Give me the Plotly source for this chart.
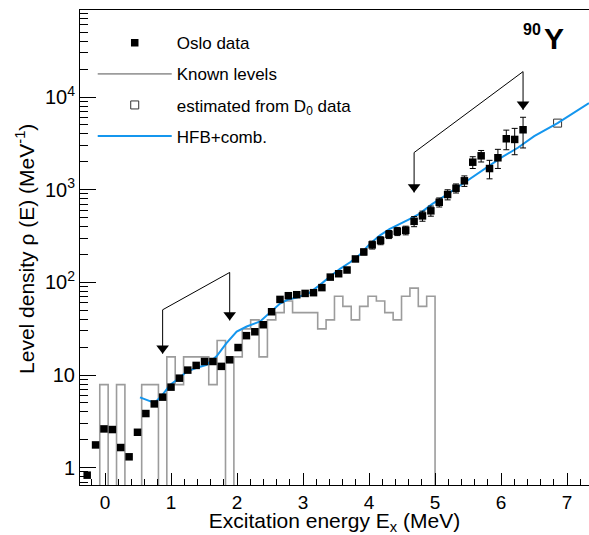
import plotly.graph_objects as go
import math

# ---------------- data ----------------
oslo_E = [-0.270, -0.143, -0.016, 0.111, 0.238, 0.365, 0.492, 0.619, 0.746, 0.873,
          1.000, 1.127, 1.254, 1.381, 1.508, 1.635, 1.762, 1.889, 2.016, 2.143,
          2.270, 2.397, 2.524, 2.651, 2.778, 2.905, 3.032, 3.159, 3.286, 3.413,
          3.540, 3.667, 3.794, 3.921, 4.048, 4.175, 4.302, 4.429, 4.556, 4.683,
          4.810, 4.937, 5.064, 5.191, 5.318, 5.445, 5.572, 5.699, 5.826, 5.953,
          6.080, 6.207, 6.334]
oslo_rho = [0.83, 1.76, 2.62, 2.58, 1.65, 1.31, 2.41, 3.84, 4.88, 5.77,
            7.4, 9.25, 11.3, 12.7, 14.0, 14.0, 12.4, 14.6, 19.8, 26.6,
            29.3, 34.9, 48.2, 65.5, 71.8, 73.6, 76.0, 77.4, 87.8, 114,
            124, 136, 179, 213, 254, 283, 330, 356, 365, 456,
            522, 592, 733, 888, 1038, 1248, 1983, 2323, 1694, 2213,
            3550, 3490, 4440]
oslo_err = [0.0] * 33 + [15, 25, 28, 33, 36, 39, 57, 65, 74, 82,
                         111, 116, 162, 288, 330, 383, 516, 848, 1103, 1616]

# known levels histogram (levels/MeV per bin, bins centred on oslo_E)
known_centers = oslo_E[:42]
known_halfwidth = 0.0635
known_rho = [0, 0, 7.87, 0, 7.87, 0, 0, 7.87, 7.87, 0,
             15.7, 7.87, 15.7, 15.7, 15.7, 7.87, 23.6, 0, 15.7, 31.5,
             39.4, 15.7, 39.4, 47.2, 63.0, 47.2, 47.2, 47.2, 31.5, 39.4,
             70.9, 55.1, 39.4, 55.1, 70.9, 63.0, 47.2, 39.4, 70.9, 86.6,
             55.1, 70.9]

# estimated from D0
d0_E = [6.857]
d0_rho = [5236]

# HFB + combinatorial
hfb_E = [0.53, 0.75, 0.87, 0.985, 1.126, 1.238, 1.379, 1.54, 1.69, 1.84,
         1.995, 2.147, 2.35, 2.526, 2.652, 2.777, 2.905, 3.091, 3.258, 3.409,
         3.561, 3.714, 3.863, 4.012, 4.161, 4.309, 4.458, 4.607, 4.756, 4.955,
         5.192, 5.44, 5.748, 5.997, 6.255, 6.503, 6.857, 7.333]
hfb_rho = [5.73, 5.0, 6.1, 7.8, 9.3, 10.9, 11.9, 12.9, 15.9, 22.1,
           29.5, 33.4, 37.9, 48.6, 59, 65.5, 68.4, 76.8, 94, 116,
           140, 165, 200, 260, 320, 375, 420, 480, 545, 700,
           900, 1190, 1650, 2210, 2840, 3790, 5240, 8600]

# fit-region brackets (annotation): x positions, arrow tip and top y values
brk_low_x = [0.873, 0.873, 1.889, 1.889]
brk_low_y = [17.0, 50.6, 128, 38.8]
brk_high_x = [4.683, 4.683, 6.334, 6.334]
brk_high_y = [933, 2520, 18840, 7280]

y_tickvals = [1, 10, 100, 1000, 10000]
y_ticktext = ["1", "10", "10<sup>2</sup>", "10<sup>3</sup>", "10<sup>4</sup>"]

# ---------------- figure ----------------
X_RANGE = [-0.379, 7.333]
Y_RANGE = [-0.187, 4.94]
FONT = "Liberation Sans, Arial, sans-serif"
W, H = 589, 535
M = dict(l=80, r=0, t=10, b=50)
px_per_dec = (H - M["t"] - M["b"]) / (Y_RANGE[1] - Y_RANGE[0])

fig = go.Figure()

floor = 1e-3
hx, hy = [], []
for c, v in zip(known_centers, known_rho):
    hx.append(c - known_halfwidth)
    hy.append(v if v > 0 else floor)
hx.append(known_centers[-1] + known_halfwidth)
hy.append(floor)

fig.add_trace(go.Scatter(x=[None], y=[None], mode="markers", name="Oslo data",
                         marker=dict(symbol="square", size=7.5, color="black"),
                         legendgroup="a"))
fig.add_trace(go.Scatter(x=hx, y=hy, mode="lines", line_shape="hv", name="Known levels",
                         line=dict(color="#9c9c9c", width=1.6), legendgroup="b"))
fig.add_trace(go.Scatter(x=d0_E, y=d0_rho, mode="markers", name="estimated from D<sub>0</sub> data",
                         marker=dict(symbol="square-open", size=8, color="#333333",
                                     line=dict(width=1)), legendgroup="c"))
fig.add_trace(go.Scatter(x=hfb_E, y=hfb_rho, mode="lines", name="HFB+comb.",
                         line=dict(color="#1496ee", width=2), legendgroup="d"))
fig.add_trace(go.Scatter(x=oslo_E, y=oslo_rho, mode="markers", showlegend=False,
                         marker=dict(symbol="square", size=7.5, color="black"),
                         error_y=dict(type="data", array=oslo_err, color="black",
                                      thickness=1, width=3)))

asize = 11
for bx, by in [(brk_low_x, brk_low_y), (brk_high_x, brk_high_y)]:
    fig.add_trace(go.Scatter(x=bx, y=by, mode="lines", showlegend=False,
                             line=dict(color="black", width=1), hoverinfo="skip"))
    tips_x = [bx[0], bx[3]]
    tips_y = [10 ** (math.log10(by[0]) + (asize / 2) / px_per_dec),
              10 ** (math.log10(by[3]) + (asize / 2) / px_per_dec)]
    fig.add_trace(go.Scatter(x=tips_x, y=tips_y, mode="markers", showlegend=False,
                             marker=dict(symbol="triangle-down", size=asize, color="black"),
                             hoverinfo="skip"))

minor_y = [m * 10 ** k for k in range(-1, 5) for m in range(2, 10)]

fig.update_layout(
    width=W, height=H, margin=M,
    plot_bgcolor="white", paper_bgcolor="white",
    font=dict(family=FONT, color="black"),
    showlegend=True,
    legend=dict(x=0.025, y=0.968, xanchor="left", yanchor="top",
                font=dict(size=17, family=FONT), bgcolor="rgba(0,0,0,0)",
                tracegroupgap=6, traceorder="grouped", itemwidth=74),
)
fig.add_annotation(x=0.9096, y=0.958, xref="paper", yref="paper", text="<b>90</b>",
                   showarrow=False, font=dict(size=16, family=FONT),
                   xanchor="right", yanchor="middle")
fig.add_annotation(x=0.9076, y=0.941, xref="paper", yref="paper", text="<b>Y</b>",
                   showarrow=False, font=dict(size=30, family=FONT),
                   xanchor="left", yanchor="middle")
# y-axis title
fig.add_annotation(x=-0.108, y=0.497, xref="paper", yref="paper",
                   text="Level density \u03c1 (E) (MeV<sup>-1</sup>)", textangle=-90,
                   showarrow=False, font=dict(size=21, family=FONT),
                   xanchor="center", yanchor="middle")

fig.update_xaxes(range=X_RANGE, showline=True, linecolor="black", linewidth=1, mirror=True,
                 ticks="inside", ticklen=12, tickcolor="black", dtick=1, tick0=0,
                 minor=dict(ticks="inside", ticklen=6, dtick=0.2, tick0=0, tickcolor="black"),
                 showgrid=False, zeroline=False, automargin=False,
                 tickfont=dict(size=19, family=FONT),
                 title=dict(text="Excitation energy E<sub>x</sub> (MeV)",
                            font=dict(size=21, family=FONT), standoff=2))
fig.update_yaxes(type="log", range=Y_RANGE, showline=True, linecolor="black", linewidth=1,
                 ticks="inside", ticklen=16, tickcolor="black",
                 tickmode="array", tickvals=y_tickvals, ticktext=y_ticktext,
                 minor=dict(ticks="inside", ticklen=8, tickvals=minor_y, tickcolor="black"),
                 showgrid=False, zeroline=False, automargin=False,
                 tickfont=dict(size=20, family=FONT))

fig.write_html("out.html", config={"displayModeBar": False},
               post_script="document.body.style.margin='0';document.body.style.overflow='hidden';")
